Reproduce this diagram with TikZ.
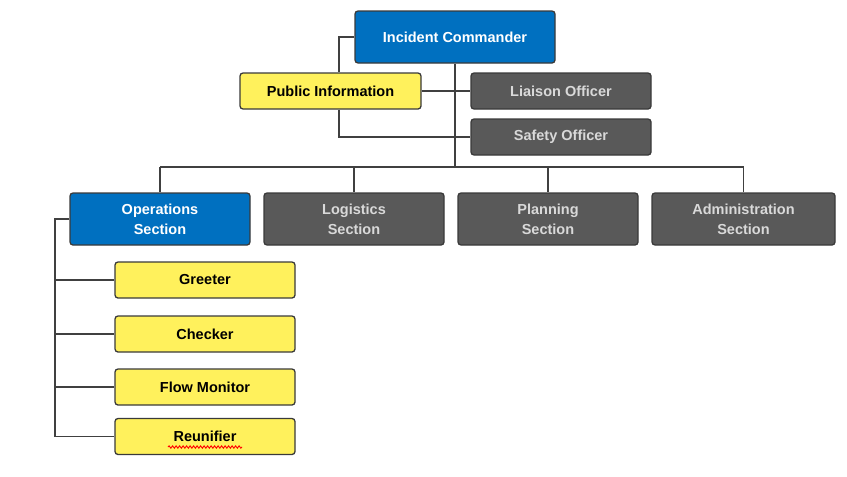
\documentclass[tikz,border=0pt]{standalone}
\usepackage{fontspec}
\setmainfont{Liberation Sans}
\usetikzlibrary{decorations.pathmorphing}
\definecolor{icsblue}{HTML}{0070C0}
\definecolor{icsgray}{HTML}{595959}
\definecolor{icsyellow}{HTML}{FFF15C}
\definecolor{icsborder}{HTML}{3A3A3A}
\definecolor{icslight}{HTML}{D9D9D9}
\definecolor{icsline}{HTML}{404040}
\tikzset{
  box/.style={draw=icsborder, line width=1.3pt, rounded corners=3pt, inner sep=0pt, align=center,
    font=\fontsize{14.5}{20}\selectfont\bfseries},
  bluebox/.style={box, fill=icsblue, text=white},
  graybox/.style={box, fill=icsgray, text=icslight},
  yelbox/.style={box, fill=icsyellow, text=black},
  conn/.style={draw=icsline, line width=1.2pt, line join=miter},
}
\begin{document}
\begin{tikzpicture}[x=1pt, y=-1pt]
\useasboundingbox (0,0) rectangle (847,477);
\node[bluebox, minimum width=200pt, minimum height=52pt] (ic) at (455,37) {Incident Commander};
\node[yelbox, minimum width=181pt, minimum height=36pt] (pi) at (330.5,91) {Public Information};
\node[graybox, minimum width=180pt, minimum height=36pt] (lo) at (561,91) {Liaison Officer};
\node[graybox, minimum width=180pt, minimum height=36pt] (so) at (561,137) {Safety Officer};

\node[bluebox, minimum width=180pt, minimum height=52pt] (ops) at (160,219) {Operations\\Section};
\node[graybox, minimum width=180pt, minimum height=52pt] (log) at (354,219) {Logistics\\Section};
\node[graybox, minimum width=180pt, minimum height=52pt] (plan) at (548,219) {Planning\\Section};
\node[graybox, minimum width=183pt, minimum height=52pt] (adm) at (743.5,219) {Administration\\Section};

\node[yelbox, minimum width=180pt, minimum height=36pt] (gr) at (205,280) {Greeter};
\node[yelbox, minimum width=180pt, minimum height=36pt] (ch) at (205,334) {Checker};
\node[yelbox, minimum width=180pt, minimum height=36pt] (fm) at (205,387) {Flow Monitor};
\node[yelbox, minimum width=180pt, minimum height=36pt] (re) at (205,436.5) {Reunifier};

\coordinate (bus) at (455,167);
\coordinate (opl) at (55,219);

% connectors
\draw[conn] (ic.south) -- (bus);
\draw[conn] (ops.north |- bus) -- (adm.north |- bus);
\foreach \n in {ops,log,plan,adm} \draw[conn] (\n.north |- bus) -- (\n.north);
\draw[conn] (ic.west) -| (pi.north -| 339,0);
\draw[conn] (pi.south -| 339,0) |- (so.west);
\draw[conn] (pi.east) -- (lo.west);
\draw[conn] (ops.west) -- (opl) -- (opl |- re.west) -- (re.west);
\foreach \n in {gr,ch,fm} \draw[conn] (opl |- \n.west) -- (\n.west);
% spell-check underline
\draw[red, line width=0.9pt, decorate, decoration={snake, amplitude=1.2pt, segment length=3.5pt}] (168,447) -- (242,447);
\end{tikzpicture}
\end{document}
